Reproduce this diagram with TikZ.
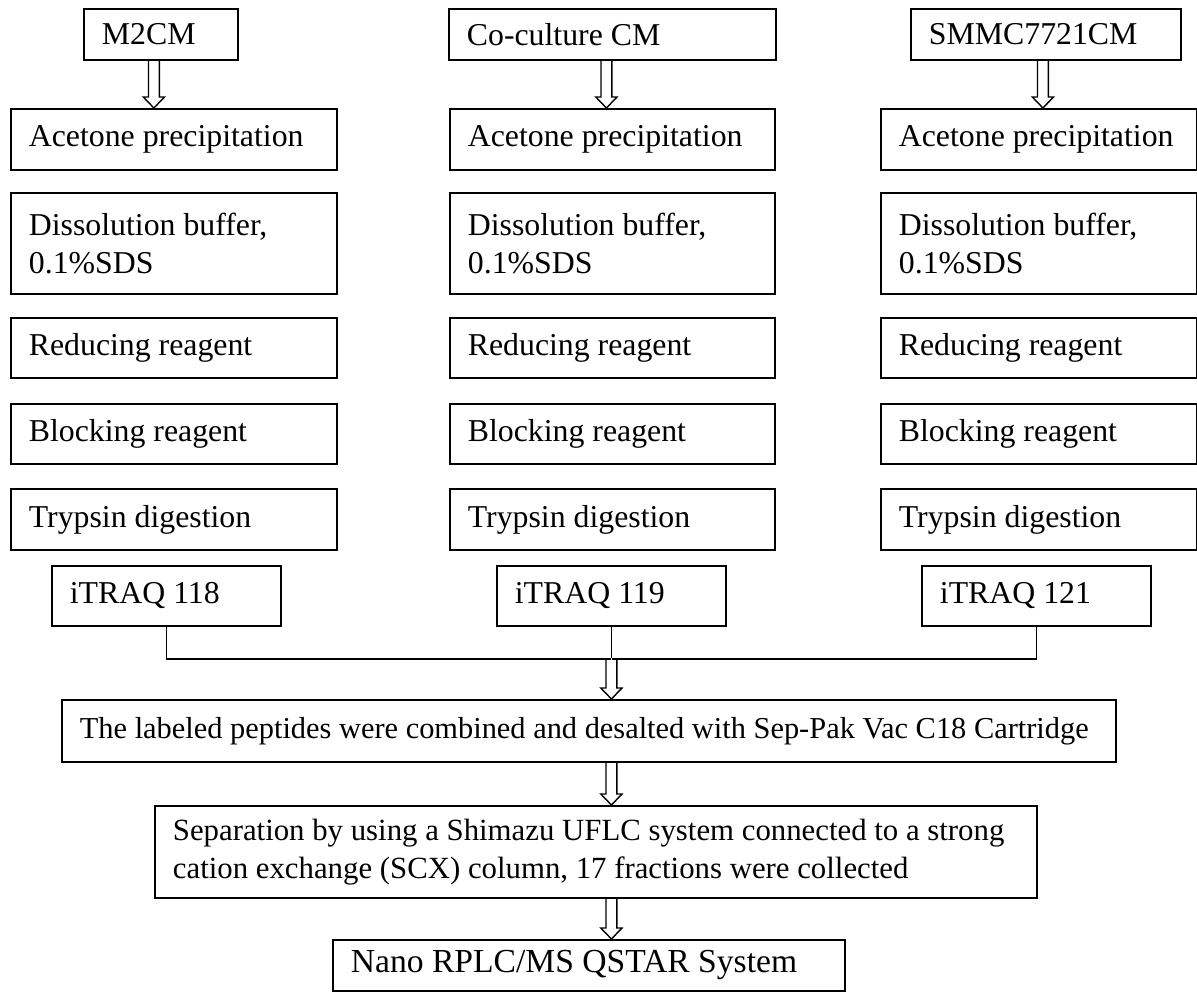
\documentclass[tikz,border=0pt]{standalone}
\usepackage{fontspec}
\setmainfont{Liberation Serif}
\usetikzlibrary{calc}
\tikzset{
  blk/.style 2 args={draw, line width=0.9pt, anchor=north west, align=flush left, text width=#1,
    minimum height=#2, inner xsep=9pt, inner ysep=0pt, font=\fontsize{15.9}{19}\selectfont},
  link/.style={line width=0.8pt},
  arrline/.style={line width=0.7pt},
}
% hollow block arrow straight down from a point to the top of a node
\newcommand{\hollowdown}[2]{%
  \path (#1) coordinate (hdA);
  \path (hdA |- #2.north) coordinate (hdB);
  \draw[arrline] ($(hdA)+(-2.7pt,0)$) -- ($(hdB)+(-2.7pt,5.5pt)$) -- ($(hdB)+(-5.3pt,5.5pt)$)
    -- (hdB) -- ($(hdB)+(5.3pt,5.5pt)$) -- ($(hdB)+(2.7pt,5.5pt)$) -- ($(hdA)+(2.7pt,0)$);
}

\begin{document}
\begin{tikzpicture}[x=0.5pt, y=-0.5pt]
  \useasboundingbox (0,0) rectangle (1197,991);

  % samples
  \node[blk={59pt}{25.5pt}] (m2cm) at (83,8) {M2CM};
  \node[blk={145.5pt}{25.5pt}] (cocm) at (448,8) {Co-culture CM};
  \node[blk={117pt}{25.5pt}] (smmc) at (910,8) {SMMC7721CM};

  % sample preparation, one column per sample
  \foreach \i/\x/\tw in {1/10/145pt, 2/449/144.5pt, 3/880/140pt} {
    \node[blk={\tw}{30.5pt}] (ace\i) at (\x,108) {Acetone precipitation};
    \node[blk={\tw}{50.5pt}] (dis\i) at (\x,192) {Dissolution buffer,\\0.1\%SDS};
    \node[blk={\tw}{30pt}] (red\i) at (\x,317) {Reducing reagent};
    \node[blk={\tw}{30pt}] (blo\i) at (\x,403) {Blocking reagent};
    \node[blk={\tw}{30.5pt}] (try\i) at (\x,488) {Trypsin digestion};
  }

  \node[blk={96.5pt}{30pt}] (tq118) at (51,565) {iTRAQ 118};
  \node[blk={96.5pt}{30pt}] (tq119) at (496,565) {iTRAQ 119};
  \node[blk={96.5pt}{30pt}] (tq121) at (921,565) {iTRAQ 121};

  \node[inner sep=0pt, minimum size=0pt] (join) at ($(tq119.south)+(0,-16pt)$) {};

  \node[blk={509pt}{31pt}, font=\fontsize{15.2}{19}\selectfont] (comb) at (61,699)
    {The labeled peptides were combined and desalted with Sep-Pak Vac C18 Cartridge};
  \node[blk={423pt}{46pt}, font=\fontsize{15.4}{19}\selectfont] (sep) at (154,805)
    {Separation by using a Shimazu UFLC system connected to a strong\\cation exchange (SCX) column, 17 fractions were collected};
  \node[blk={238pt}{25.5pt}, font=\fontsize{16.8}{19}\selectfont] (nano) at (332,939) {Nano RPLC/MS QSTAR System};

  % connectors
  \hollowdown{$(m2cm.south)+(-3.5pt,0)$}{ace1}
  \hollowdown{$(cocm.south)+(-3pt,0)$}{ace2}
  \hollowdown{$(smmc.south)+(-1.5pt,0)$}{ace3}

  \draw[link] (tq118.south) |- (join) -| (tq121.south);
  \draw[link] (tq119.south) -- (join);

  \hollowdown{join}{comb}
  \hollowdown{comb.south -| join}{sep}
  \hollowdown{sep.south -| join}{nano}
\end{tikzpicture}
\end{document}
